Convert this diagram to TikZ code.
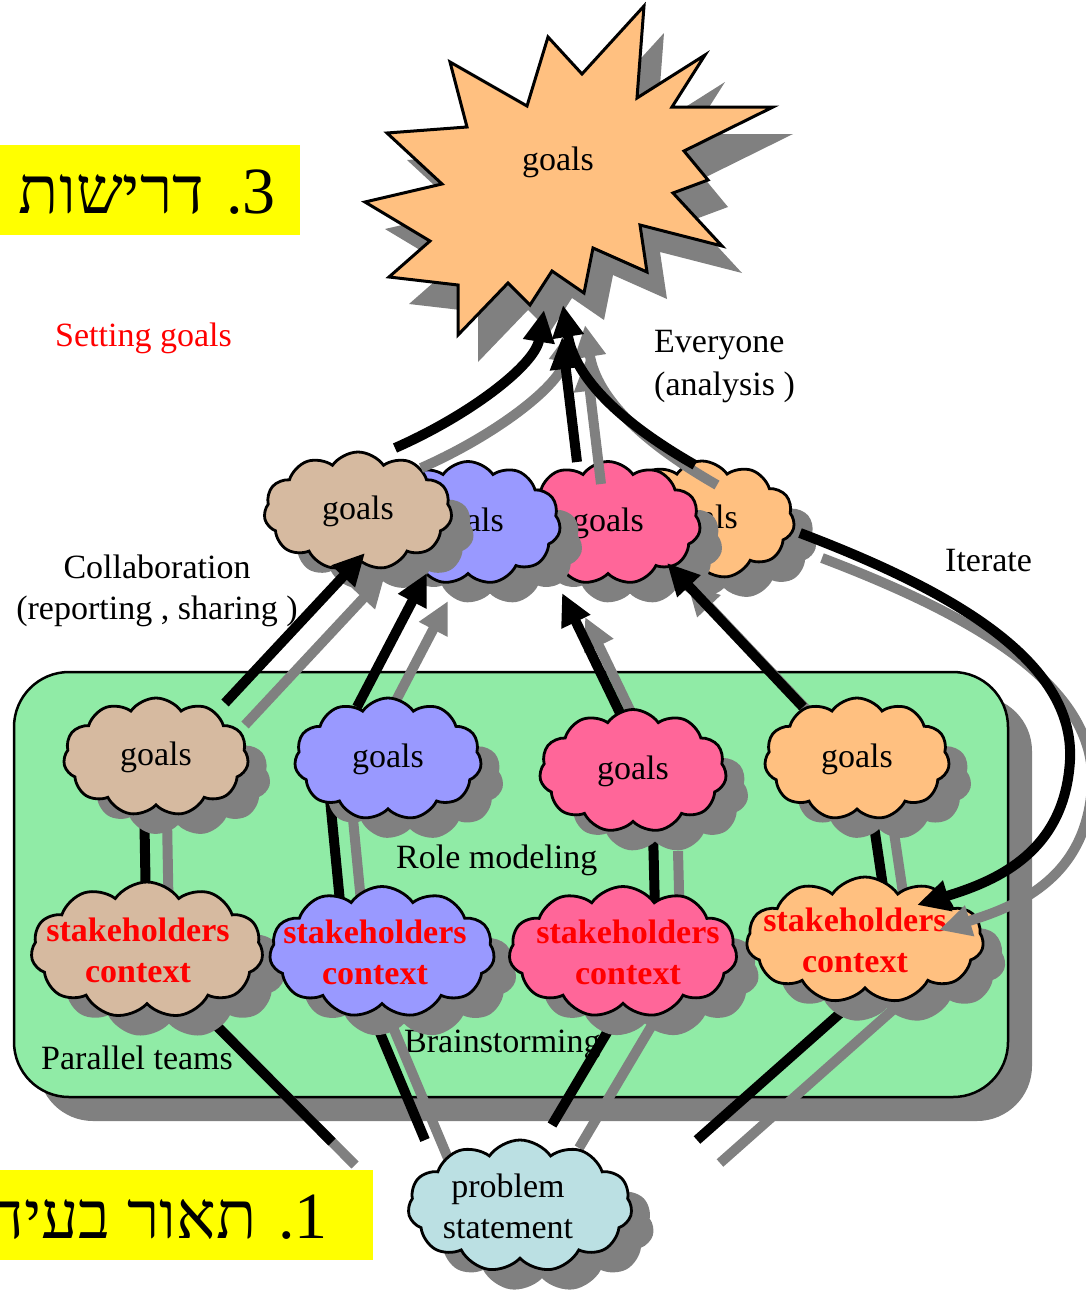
\documentclass[tikz,border=0pt]{standalone}
\usepackage{fontspec}
\setmainfont{Liberation Serif}
\newfontfamily\hebfont[Script=Hebrew]{Liberation Serif}
\TeXXeTstate=1
\usetikzlibrary{shapes.symbols,arrows.meta,shadows}

\definecolor{tanc}{RGB}{214,186,160}
\definecolor{bluec}{RGB}{153,153,255}
\definecolor{pinkc}{RGB}{255,102,153}
\definecolor{orangec}{RGB}{255,192,128}
\definecolor{skyc}{RGB}{187,224,227}
\definecolor{teamc}{RGB}{144,235,166}
\definecolor{shgray}{RGB}{128,128,128}
\definecolor{hiyellow}{RGB}{255,255,0}

% the offset grey shadow of a connector
\newcommand\shadowonly[3]{%
  \draw[#1, draw=shgray, transform canvas={shift={#2}}] #3;}
% a connector together with its offset grey shadow
\newcommand\shadowed[3]{%
  \shadowonly{#1}{#2}{#3}
  \draw[#1] #3;}

\begin{document}
\begin{tikzpicture}[x=1pt,y=-1pt,
  every node/.style={font=\fontsize{34}{41}\selectfont, inner sep=0pt},
  cloudbase/.style={cloud, cloud puffs=11, cloud puff arc=110, cloud ignores aspect,
    draw=black, line width=2.8pt,
    drop shadow={shadow xshift=22pt, shadow yshift=-20pt, fill=shgray, opacity=1}},
  goalcloud/.style={cloudbase, label={center:goals}},
  stkcloud/.style={cloudbase, label={[align=center, text=red, xshift=#1,
      font=\fontsize{34}{41}\selectfont\bfseries]center:stakeholders\\context}},
  stkcloud/.default=0pt,
  conn/.style={line width=10pt},
  arr/.style={line width=10pt, -{Triangle[length=32pt,width=30pt]}},
  heb/.style={font=\hebfont\fontsize{66}{70}\selectfont, anchor=east},
  lbl/.style={anchor=west}]

\useasboundingbox (0,0) rectangle (1086,1293);
\clip (0,0) rectangle (1086,1293);

% section banners
\fill[hiyellow] (0,145) rectangle (300,235);
\node[heb] (req) at (276,192) {\beginR 3. דרישות\endR};
\fill[hiyellow] (0,1170) rectangle (373,1260);
\node[heb] (prob) at (328,1217) {\beginR 1. תאור בעיה\endR};

% team area
\node[draw, line width=2.5pt, fill=teamc, rounded corners=55,
  minimum width=994, minimum height=425,
  drop shadow={shadow xshift=24pt, shadow yshift=-24pt, fill=shgray, opacity=1}]
  (team) at (511,884.5) {};

% free text
\node[lbl, text=red] (setting) at (55,338) {Setting goals};
\node[lbl] (every) at (654,345) {Everyone};
\node[lbl] (analysis) at (654,387) {(analysis )};
\node[align=center] (collab) at (157,591) {Collaboration\\(reporting , sharing )};
\node[lbl] (iter) at (945,561) {Iterate};
\node[lbl] (role) at (396,860) {Role modeling};
\node[lbl] (brain) at (404,1045) {Brainstorming};
\node[lbl] (parallel) at (41,1058) {Parallel teams};

% anchors for node placement (used before the nodes exist)
\coordinate (cgT) at (156,757);
\coordinate (cgB) at (388,759);
\coordinate (cgP) at (633,771);
\coordinate (cgO) at (857,759);
\coordinate (csT) at (147,950);
\coordinate (csB) at (382,952);
\coordinate (csP) at (623,952);
\coordinate (csO) at (865,940);
\coordinate (cmO) at (702,520);
\coordinate (cmP) at (608,523);
\coordinate (cmB) at (468,523);
\coordinate (cmT) at (358,511);

% loose ends of the brainstorming links
\coordinate (p1) at (332,1142);
\coordinate (p2) at (425,1140);
\coordinate (p3) at (552,1125);
\coordinate (p4) at (697,1140);

% goals -- stakeholders links
\shadowed{conn}{(23,20)}{([shift={(-12,40)}]cgT) -- ([shift={(-1,-40)}]csT)}
\shadowed{conn}{(23,20)}{([shift={(-58,40)}]cgB) -- ([shift={(-42,-50)}]csB)}
\shadowed{conn}{(25,20)}{([shift={(20,60)}]cgP) -- ([shift={(32,-42)}]csP)}
\shadowed{conn}{(22,20)}{([shift={(13,40)}]cgO) -- ([shift={(20,-40)}]csO)}

% stakeholders -- problem statement links
\shadowed{conn}{(23,23)}{([shift={(43,49)}]csT) -- (p1)}
\shadowed{conn}{(25,23)}{([shift={(-20,38)}]csB) -- (p2)}
\shadowed{conn}{(27,23)}{([shift={(8,40)}]csP) -- (p3)}
\shadowed{conn}{(23,23)}{([shift={(7,45)}]csO) -- (p4)}

% shadows of the collaboration arrows sit beneath the clouds
\shadowonly{arr}{(20,22)}{([shift={(69,-54)}]cgT) -- ([shift={(7,42)}]cmT)}
\shadowonly{arr}{(21,28)}{([shift={(-31,-52)}]cgB) -- ([shift={(-41,50)}]cmB)}
\shadowonly{arr}{(23,24)}{([shift={(-13,-58)}]cgP) -- ([shift={(-46,70)}]cmP)}
\shadowonly{arr}{(20,20)}{([shift={(-54,-52)}]cgO) -- ([shift={(59,40)}]cmP)}

% team clouds
\node[goalcloud, fill=tanc, minimum width=185, minimum height=118] (gT) at (cgT) {};
\node[goalcloud, fill=bluec, minimum width=187, minimum height=122] (gB) at (cgB) {};
\node[goalcloud, fill=pinkc, minimum width=187, minimum height=123] (gP) at (cgP) {};
\node[goalcloud, fill=orangec, minimum width=185, minimum height=122] (gO) at (cgO) {};
\node[stkcloud=-9pt, fill=tanc, minimum width=232, minimum height=136] (sT) at (csT) {};
\node[stkcloud=-7pt, fill=bluec, minimum width=225, minimum height=131] (sB) at (csB) {};
\node[stkcloud=5pt, fill=pinkc, minimum width=228, minimum height=131] (sP) at (csP) {};
\node[stkcloud=-10pt, fill=orangec, minimum width=237, minimum height=126] (sO) at (csO) {};

% problem statement
\node[cloudbase, fill=skyc, minimum width=224, minimum height=132,
  label={[align=center, xshift=-12pt]center:problem\\statement}] (pS) at (520,1206) {};

% collaboration clouds, back to front
\node[goalcloud, fill=orangec, minimum width=185, minimum height=118] (mO) at (cmO) {};
\node[goalcloud, fill=pinkc, minimum width=185, minimum height=123] (mP) at (cmP) {};
\node[goalcloud, fill=bluec, minimum width=185, minimum height=123] (mB) at (cmB) {};
\node[goalcloud, fill=tanc, minimum width=188, minimum height=118] (mT) at (cmT) {};

% shared goal star
\fill[shgray] (664,33) -- (657,125) -- (725,82) -- (692,134) -- (793,134) -- (704,178)
  -- (728,207) -- (693,220) -- (742,273) -- (660,252) -- (667,299) -- (613,275)
  -- (604,320) -- (572,298) -- (550,332) -- (528,310) -- (478,362) -- (478,312)
  -- (409,304) -- (450,268) -- (385,229) -- (462,211) -- (407,160) -- (487,154)
  -- (470,89) -- (547,133) -- (568,64) -- (602,101) -- cycle;
\draw[fill=orangec, line width=3pt, line join=miter, miter limit=20]
  (644,6) -- (637,98) -- (705,55) -- (672,107) -- (773,107) -- (684,151)
  -- (708,180) -- (673,193) -- (722,246) -- (640,225) -- (647,272) -- (593,248)
  -- (584,293) -- (552,271) -- (530,305) -- (508,283) -- (458,335) -- (458,285)
  -- (389,277) -- (430,241) -- (365,202) -- (442,184) -- (387,133) -- (467,127)
  -- (450,62) -- (527,106) -- (548,37) -- (582,74) -- cycle;
\node (star) at (558,162) {goals};

% collaboration arrows
\draw[arr] ([shift={(69,-54)}]gT.center) -- ([shift={(7,42)}]mT.center);
\draw[arr] ([shift={(-31,-52)}]gB.center) -- ([shift={(-41,50)}]mB.center);
\draw[arr] ([shift={(-13,-58)}]gP.center) -- ([shift={(-46,70)}]mP.center);
\draw[arr] ([shift={(-54,-52)}]gO.center) -- ([shift={(59,40)}]mP.center);

% everyone's analysis arrows
\shadowed{arr}{(26,20)}{([shift={(37,-63)}]mT.center) .. controls (470,415) and (535,365) .. ([shift={(-14,148)}]star.center)}
\shadowed{arr}{(24,22)}{([shift={(-31,-61)}]mP.center) -- ([shift={(4,175)}]star.center)}
\shadowed{arr}{(22,20)}{([shift={(-7,-55)}]mO.center) .. controls (625,425) and (575,380) .. ([shift={(5,143)}]star.center)}

% iterate loop
\shadowed{arr}{(22,25)}{([shift={(98,13)}]mO.center) .. controls (950,590) and (1075,660) .. (1070,760) .. controls (1065,850) and (1000,880) .. ([shift={(52,-35)}]sO.center)}

\end{tikzpicture}
\end{document}
